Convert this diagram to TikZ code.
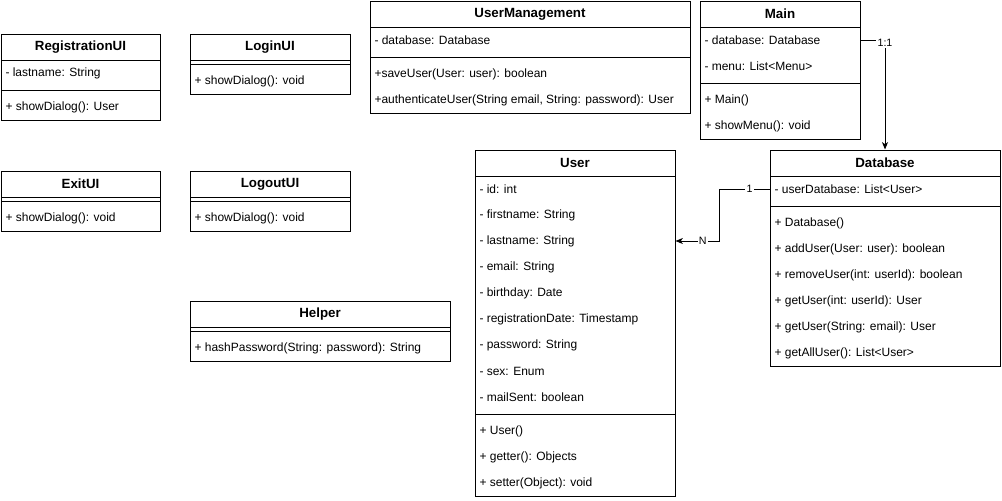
\documentclass[tikz,border=0pt]{standalone}
\usepackage{fontspec}
\setmainfont{Liberation Sans}
\usetikzlibrary{fit,arrows.meta}

\tikzset{
  cls/.style={draw,line width=0.75pt,inner sep=0pt},
  ttl/.style={font=\bfseries,inner sep=0pt},
  mem/.style={anchor=west,inner sep=0pt},
  sep/.style={line width=0.75pt},
  lbl/.style={fill=white,inner sep=1pt,font=\fontsize{8}{9}\selectfont}
}

\begin{document}
\begin{tikzpicture}[x=0.75pt,y=-0.75pt,line width=0.75pt,
    >={Stealth[length=5.5pt,width=4.5pt,inset=1.5pt]},
    every node/.append style={font=\fontsize{9}{11}\selectfont}]
        \useasboundingbox (0,0) rectangle (1002,500);
        % RegistrationUI
        \node[cls,fit={(1,34) (160,120)}] (regUI) {};
        \node[ttl] (regUIt) at (80.5,47) {RegistrationUI};
        \draw[sep] (1,60) -- (160,60);
        \node[mem] (regUIa1) at (5,73) {- lastname: String};
        \draw[sep] (1,90) -- (160,90);
        \node[mem] (regUIm1) at (5,107) {+ showDialog(): User};
        % LoginUI
        \node[cls,fit={(190,34) (350,94)}] (loginUI) {};
        \node[ttl] (loginUIt) at (270,47) {LoginUI};
        \draw[sep] (190,60) -- (350,60);
        \draw[sep] (190,64) -- (350,64);
        \node[mem] (loginUIm1) at (194,81) {+ showDialog(): void};
        % ExitUI
        \node[cls,fit={(1,171) (160,231)}] (exitUI) {};
        \node[ttl] (exitUIt) at (80.5,184) {ExitUI};
        \draw[sep] (1,197) -- (160,197);
        \draw[sep] (1,201) -- (160,201);
        \node[mem] (exitUIm1) at (5,218) {+ showDialog(): void};
        % LogoutUI
        \node[cls,fit={(190,171) (350,231)}] (logoutUI) {};
        \node[ttl] (logoutUIt) at (270,184) {LogoutUI};
        \draw[sep] (190,197) -- (350,197);
        \draw[sep] (190,201) -- (350,201);
        \node[mem] (logoutUIm1) at (194,218) {+ showDialog(): void};
        % Helper
        \node[cls,fit={(190,301) (450,361)}] (helper) {};
        \node[ttl] (helpert) at (320,314) {Helper};
        \draw[sep] (190,327) -- (450,327);
        \draw[sep] (190,331) -- (450,331);
        \node[mem] (helperm1) at (194,348) {+ hashPassword(String: password): String};
        % UserManagement
        \node[cls,fit={(370,1) (690,113)}] (userMgmt) {};
        \node[ttl] (userMgmtt) at (530,14) {UserManagement};
        \draw[sep] (370,27) -- (690,27);
        \node[mem] (userMgmta1) at (374,40) {- database: Database};
        \draw[sep] (370,57) -- (690,57);
        \node[mem] (userMgmtm1) at (374,74) {+saveUser(User: user): boolean};
        \node[mem] (userMgmtm2) at (374,100) {+authenticateUser(String email, String: password): User};
        % Main
        \node[cls,fit={(700,1) (860,139)}] (main) {};
        \node[ttl] (maint) at (780,14) {Main};
        \draw[sep] (700,27) -- (860,27);
        \node[mem] (mainA1) at (704,40) {- database: Database};
        \node[mem] (mainA2) at (704,66) {- menu: List<Menu>};
        \draw[sep] (700,83) -- (860,83);
        \node[mem] (mainM1) at (704,100) {+ Main()};
        \node[mem] (mainM2) at (704,126) {+ showMenu(): void};
        % Database
        \node[cls,fit={(770,150) (1000,366)}] (db) {};
        \node[ttl] (dbt) at (885,163) {Database};
        \draw[sep] (770,176) -- (1000,176);
        \node[mem] (dbA1) at (774,189) {- userDatabase: List<User>};
        \draw[sep] (770,206) -- (1000,206);
        \node[mem] (dbM1) at (774,223) {+ Database()};
        \node[mem] (dbM2) at (774,249) {+ addUser(User: user): boolean};
        \node[mem] (dbM3) at (774,275) {+ removeUser(int: userId): boolean};
        \node[mem] (dbM4) at (774,301) {+ getUser(int: userId): User};
        \node[mem] (dbM5) at (774,327) {+ getUser(String: email): User};
        \node[mem] (dbM6) at (774,353) {+ getAllUser(): List<User>};
        % User
        \node[cls,fit={(475,150) (675,496)}] (user) {};
        \node[ttl] (usert) at (575,163) {User};
        \draw[sep] (475,176) -- (675,176);
        \node[mem] (userA1) at (479,189) {- id: int};
        \node[mem] (userA2) at (479,215) {- firstname: String};
        \node[mem] (userA3) at (479,241) {- lastname: String};
        \node[mem] (userA4) at (479,267) {- email: String};
        \node[mem] (userA5) at (479,293) {- birthday: Date};
        \node[mem] (userA6) at (479,319) {- registrationDate: Timestamp};
        \node[mem] (userA7) at (479,345) {- password: String};
        \node[mem] (userA8) at (479,371) {- sex: Enum};
        \node[mem] (userA9) at (479,397) {- mailSent: boolean};
        \draw[sep] (475,414) -- (675,414);
        \node[mem] (userM1) at (479,431) {+ User()};
        \node[mem] (userM2) at (479,457) {+ getter(): Objects};
        \node[mem] (userM3) at (479,483) {+ setter(Object): void};
        % associations
        \draw[->] (mainA1 -| main.east) -| node[lbl,pos=0.5,yshift=-2pt] {1:1} (db.north);
        \draw[->] (dbA1 -| db.west) -- node[lbl,pos=0.4] {1} ++(-50,0)
          |- node[lbl,pos=0.69] {N} (userA3 -| user.east);
      \end{tikzpicture}
\end{document}
